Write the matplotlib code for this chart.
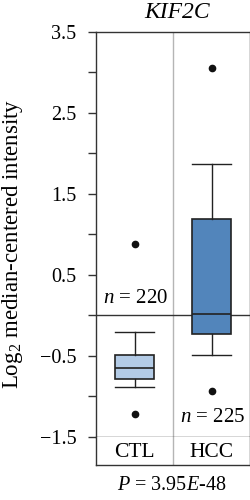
import matplotlib
matplotlib.use("Agg")
import matplotlib.pyplot as plt
import numpy as np

plt.rcParams['font.family'] = ['Liberation Serif', 'DejaVu Serif']
plt.rcParams['mathtext.fontset'] = 'custom'
plt.rcParams['mathtext.rm'] = 'Liberation Serif'
plt.rcParams['mathtext.it'] = 'Liberation Serif:italic'

# data
groups = ['CTL', 'HCC']
counts = [220, 225]
whislo = [-0.89, -0.49]
q1 = [-0.79, -0.23]
med = [-0.65, 0.01]
q3 = [-0.49, 1.19]
whishi = [-0.21, 1.87]
fliers = [[0.875, -1.22], [3.05, -0.93]]
box_colors = ['#b3cbe6', '#5285bb']
p_value = '3.95$E$-48'

W, H = 251, 500
fig = plt.figure(figsize=(W / 100, H / 100), dpi=100)

x0, x1 = 96, 250
ytop, ybot, ycat = 31.7, 436.7, 465
ax = fig.add_axes([x0 / W, 1 - ybot / H, (x1 - x0) / W, (ybot - ytop) / H])
axc = fig.add_axes([x0 / W, 1 - ycat / H, (x1 - x0) / W, (ycat - ybot) / H])

stats = []
for i in range(2):
    stats.append(dict(med=med[i], q1=q1[i], q3=q3[i], whislo=whislo[i],
                      whishi=whishi[i], fliers=fliers[i], label=groups[i]))

edge = '#222222'
bp = ax.bxp(stats, positions=[1, 2], widths=0.5, capwidths=0.5,
            patch_artist=True, manage_ticks=False,
            boxprops=dict(edgecolor=edge, linewidth=1.2),
            medianprops=dict(color=edge, linewidth=1.2),
            whiskerprops=dict(color=edge, linewidth=1.0),
            capprops=dict(color=edge, linewidth=1.0),
            flierprops=dict(marker='o', markerfacecolor='#111111',
                            markeredgecolor='#111111', markersize=4.5))
for patch, c in zip(bp['boxes'], box_colors):
    patch.set_facecolor(c)

ax.set_xlim(0.5, 2.5)
ax.set_ylim(-1.5, 3.5)
ax.axhline(0, color='#333333', lw=1.0, zorder=1)
ax.axvline(1.5, color='#b5b5b5', lw=1.0, zorder=0)

ticks = np.arange(-1.5, 3.51, 0.5)
ax.set_yticks(ticks)
ax.set_yticklabels(['' if i % 2 else '{:.1f}'.format(v).replace('-', '\u2212')
                    for i, v in enumerate(ticks)])
ax.tick_params(axis='y', direction='out', length=6, width=1.0, pad=8,
               labelsize=14.5, color='#333333')
ax.set_xticks([])
for s in ax.spines.values():
    s.set_color('#333333')
    s.set_linewidth(1.0)

ax.text(1.02, 0.21, '$n$ = {}'.format(counts[0]), ha='center', va='center', fontsize=15)
ax.text(2.01, -1.26, '$n$ = {}'.format(counts[1]), ha='center', va='center', fontsize=15)

axc.set_xlim(0.5, 2.5)
axc.set_ylim(0, 1)
axc.axvline(1.5, color='#b5b5b5', lw=1.0)
axc.set_xticks([])
axc.set_yticks([])
for s in axc.spines.values():
    s.set_color('#333333')
    s.set_linewidth(1.0)
axc.spines['top'].set_visible(False)
for i, g in enumerate(groups):
    axc.text(i + 1, 0.45, g, ha='center', va='center', fontsize=15.5)

fig.text(177 / W, 1 - 13 / H, 'KIF2C', style='italic', ha='center', va='center', fontsize=17)
fig.text(172 / W, 1 - 485 / H, '$P$ = ' + p_value, ha='center', va='center', fontsize=14.5)
fig.text(13 / W, 1 - 244 / H, 'Log$_2$ median-centered intensity', rotation=90,
         ha='center', va='center', fontsize=16.5)

fig.savefig('out.png', dpi=100)
